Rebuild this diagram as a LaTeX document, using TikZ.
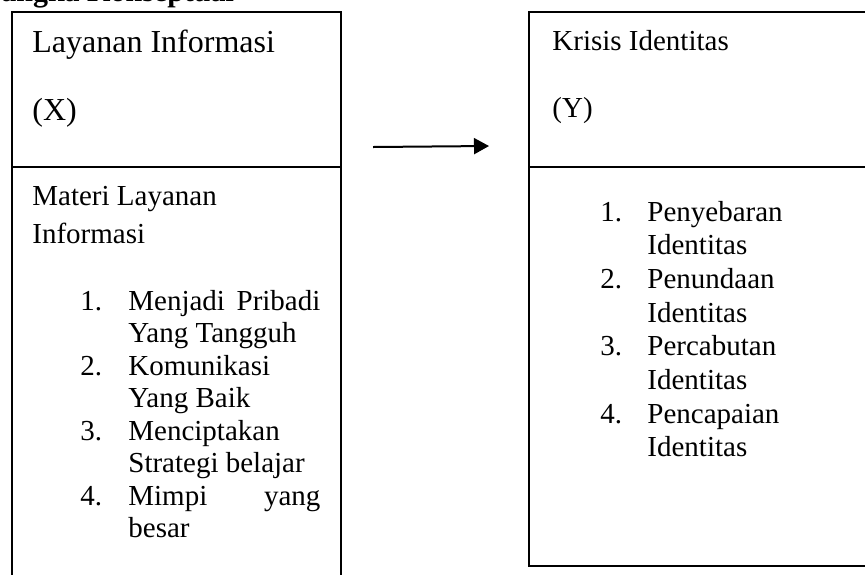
\documentclass[tikz,border=0pt]{standalone}
\usepackage{fontspec}
\setmainfont{Liberation Serif}
\usetikzlibrary{positioning}
\usetikzlibrary{arrows.meta}

\begin{document}
\begin{tikzpicture}[x=0.5pt, y=-0.5pt,
        box/.style={draw=black, line width=1pt},
        head/.style={anchor=base west, inner sep=0pt, font=\fontsize{16}{18}\selectfont},
        txt/.style={anchor=base west, inner sep=0pt, font=\fontsize{14.5}{16.25}\selectfont},
        itemR/.style={anchor=base west, inner sep=0pt, align=left, font=\fontsize{14.5}{16.85}\selectfont},
        itemL/.style={anchor=base west, inner sep=0pt, align=left, font=\fontsize{14.5}{16.25}\selectfont}]
        \useasboundingbox (0,0) rectangle (865,574);
        \clip (0,0) rectangle (865,574);

        % judul, terpotong di atas
        \node[anchor=base west, inner sep=0pt, font=\fontsize{15}{18}\selectfont\bfseries] (judul) at (-49,1.5) {Kerangka Konseptual};

        % kotak X
        \draw[box] (12,12) rectangle (341,620);
        \draw[box] (12,167) -- (341,167);
        \node[head] (X1) at (32,52) {Layanan Informasi};
        \node[head] (X2) at (32,120) {(X)};
        \node[txt] (M1) at (32,205) {Materi Layanan};
        \node[txt] (M2) at (32,243) {Informasi};

        % baris kedua tiap butir = +32.5
        \node[txt] (a1) at (80,310) {1.};
        \node[itemL] (b1) at (128,342.5) {\makebox[96pt][s]{Menjadi Pribadi}\\Yang Tangguh};
        \node[txt] (a2) at (80,375) {2.};
        \node[itemL] (b2) at (128,407.5) {Komunikasi\\Yang Baik};
        \node[txt] (a3) at (80,440) {3.};
        \node[itemL] (b3) at (128,472.5) {Menciptakan\\Strategi belajar};
        \node[txt] (a4) at (80,505) {4.};
        \node[itemL] (b4) at (128,537.5) {\makebox[96pt][s]{Mimpi yang}\\besar};

        % kotak Y
        \draw[box] (529,12) rectangle (900,566);
        \draw[box] (529,167) -- (900,167);
        \node[txt] (Y1) at (552,50) {Krisis Identitas};
        \node[txt] (Y2) at (552,117) {(Y)};

        \foreach \i/\w in {1/Penyebaran, 2/Penundaan, 3/Percabutan, 4/Pencapaian} {
            \node[txt] (c\i) at (600,{221+(\i-1)*67.4}) {\i.};
            \node[itemR] (d\i) at (647,{254.7+(\i-1)*67.4}) {\w\\Identitas};
        }

        % panah X -> Y
        \coordinate (ekor) at (373,147);
        \coordinate (kepala) at (489,146);
        \draw[-{Triangle[length=7.5pt, width=8pt]}, line width=1pt] (ekor) -- (kepala);
    \end{tikzpicture}
\end{document}
